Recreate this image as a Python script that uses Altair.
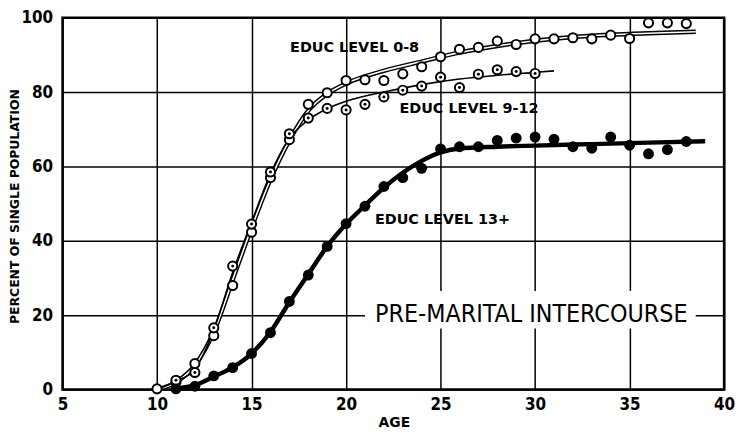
import altair as alt
import pandas as pd

# ---- data ----
# Educ level 0-8 (open circles)
age_a = [10, 11, 12, 13, 14, 15, 16, 17, 18, 19, 20, 21, 22, 23, 24, 25, 26, 27, 28, 29, 30, 31, 32, 33, 34, 35, 36, 37, 38]
pct_a = [0.2, 2, 7, 14.5, 28, 42.3, 57, 67.2, 76.7, 79.8, 83.1, 83.3, 83.1, 84.9, 86.8, 89.5, 91.5, 92, 93.7, 92.8, 94.3, 94.3, 94.6, 94.3, 95.3, 94.4, 98.6, 98.6, 98.4]
# Educ level 9-12 (dotted circles)
age_b = [11, 12, 13, 14, 15, 16, 17, 18, 19, 20, 21, 22, 23, 24, 25, 26, 27, 28, 29, 30]
pct_b = [2.5, 4.6, 16.6, 33.2, 44.5, 58.5, 68.8, 73, 75.6, 75.2, 76.7, 78.7, 80.5, 81.6, 84, 81.2, 84.8, 86, 85.5, 85]
# Educ level 13+ (filled circles)
age_c = [11, 12, 13, 14, 15, 16, 17, 18, 19, 20, 21, 22, 23, 24, 25, 26, 27, 28, 29, 30, 31, 32, 33, 34, 35, 36, 37, 38]
pct_c = [0.2, 0.9, 3.7, 5.9, 9.7, 15.3, 23.7, 30.8, 38.5, 44.6, 49.3, 54.6, 57, 59.5, 64.7, 65.3, 65.3, 67, 67.6, 67.9, 67.3, 65.3, 64.9, 67.9, 65.7, 63.4, 64.5, 66.7]

# fitted curves
curve_a_age = [10, 11, 12, 13, 14, 15, 16, 17, 18, 19, 20, 22, 24, 26, 28, 30, 32, 34, 36, 38.5]
curve_a_pct = [0, 2, 6.5, 15.5, 29.5, 43.5, 56.5, 67, 75, 79.5, 82.3, 85.7, 88.2, 90.6, 92.4, 93.8, 94.8, 95.4, 95.8, 96.2]
curve_b_age = [10, 11, 12, 13, 14, 15, 16, 17, 18, 19, 20, 22, 24, 26, 28, 30, 31]
curve_b_pct = [0, 2.2, 5.5, 16, 31.5, 45, 58, 67.5, 72.5, 75.5, 77.5, 80, 82, 83.5, 84.5, 85.3, 85.7]
curve_c_age = [11, 12, 13, 14, 15, 16, 17, 18, 19, 20, 21, 22, 23, 24, 25, 26, 28, 30, 33, 36, 39]
curve_c_pct = [0.3, 1.2, 3.5, 6, 9.7, 15.5, 23.5, 31, 38.5, 44.5, 49.5, 54.3, 58.3, 61.5, 63.8, 64.8, 65.3, 65.6, 66, 66.4, 66.8]

# annotations
label_text = ["EDUC LEVEL 0-8", "EDUC LEVEL 9-12", "EDUC LEVEL 13+"]
label_age = [20.45, 26.5, 25.1]
label_pct = [91.8, 75.3, 45.6]
title_text = ["PRE-MARITAL INTERCOURSE"]
title_age = [29.8]
title_pct = [20.3]
title_box = {"age": [21.0], "age2": [38.5], "pct": [16.4], "pct2": [26.5]}

x_ticks = [5, 10, 15, 20, 25, 30, 35, 40]
y_ticks = [0, 20, 40, 60, 80, 100]

FONT = "DejaVu Sans"
COND = "DejaVu Sans Condensed"

xs = alt.Scale(domain=[5, 40], nice=False)
ys = alt.Scale(domain=[0, 100], nice=False)

pts_a = pd.DataFrame({"age": age_a, "pct": pct_a})
pts_b = pd.DataFrame({"age": age_b, "pct": pct_b})
pts_c = pd.DataFrame({"age": age_c, "pct": pct_c})
cur_a = pd.DataFrame({"age": curve_a_age, "pct": curve_a_pct})
cur_b = pd.DataFrame({"age": curve_b_age, "pct": curve_b_pct})
cur_c = pd.DataFrame({"age": curve_c_age, "pct": curve_c_pct})
labels = pd.DataFrame({"t": label_text, "age": label_age, "pct": label_pct})
titles = pd.DataFrame({"t": title_text, "age": title_age, "pct": title_pct})
box = pd.DataFrame(title_box)

x_axis = alt.Axis(
    values=x_ticks, title="AGE", grid=True, gridColor="black", gridWidth=1.5,
    ticks=False, domain=False, labelFont=COND, labelFontWeight="bold",
    labelFontSize=17, labelPadding=7, labelColor="black",
    titleFont=FONT, titleFontWeight="bold", titleFontSize=14, titleColor="black",
    titleX=334, titleY=33, titleBaseline="middle", labelFlush=False)
y_axis = alt.Axis(
    values=y_ticks, title="PERCENT OF SINGLE POPULATION", grid=True,
    gridColor="black", gridWidth=1.5, ticks=False, domain=False,
    labelFont=COND, labelFontWeight="bold", labelFontSize=17, labelPadding=10,
    labelColor="black", titleFont=FONT, titleFontWeight="bold", titleFontSize=12.5,
    titleColor="black", titleX=-48, titleY=190, titleBaseline="middle",
    titleAngle=-90, labelFlush=False)


def X():
    return alt.X("age:Q", scale=xs, axis=x_axis)


def Y():
    return alt.Y("pct:Q", scale=ys, axis=y_axis)


white_box = alt.Chart(box).mark_rect(color="white").encode(
    x=X(), x2="age2:Q", y=Y(), y2="pct2:Q")

title_mark = alt.Chart(titles).mark_text(
    font="Liberation Sans Narrow, DejaVu Sans Condensed", fontSize=25, color="black",
    align="center", baseline="middle").encode(x=X(), y=Y(), text="t:N")

line_a_outer = alt.Chart(cur_a).mark_line(color="black", strokeWidth=4.5, interpolate="monotone").encode(x=X(), y=Y())
line_a_inner = alt.Chart(cur_a).mark_line(color="white", strokeWidth=1.6, interpolate="monotone").encode(x=X(), y=Y())
line_b = alt.Chart(cur_b).mark_line(color="black", strokeWidth=1.6, interpolate="monotone").encode(x=X(), y=Y())
line_c = alt.Chart(cur_c).mark_line(color="black", strokeWidth=4.5, interpolate="monotone").encode(x=X(), y=Y())

p_a = alt.Chart(pts_a).mark_point(shape="circle", filled=True, fill="white", stroke="black",
                                  strokeWidth=2, size=85, opacity=1).encode(x=X(), y=Y())
p_b = alt.Chart(pts_b).mark_point(shape="circle", filled=True, fill="white", stroke="black",
                                  strokeWidth=2, size=85, opacity=1).encode(x=X(), y=Y())
p_b_dot = alt.Chart(pts_b).mark_point(shape="circle", filled=True, color="black",
                                      size=9, opacity=1).encode(x=X(), y=Y())
p_c = alt.Chart(pts_c).mark_point(shape="circle", filled=True, color="black",
                                  size=120, opacity=1).encode(x=X(), y=Y())

lab = alt.Chart(labels).mark_text(font=FONT, fontWeight="bold", fontSize=14.5, color="black",
                                  align="center", baseline="middle").encode(
    x=X(), y=Y(), text="t:N")

chart = alt.layer(
    white_box, title_mark, line_a_outer, line_a_inner, line_b, line_c,
    p_a, p_b, p_b_dot, p_c, lab
).properties(
    width=667, height=375,
    autosize=alt.AutoSizeParams(type="none"),
    padding={"left": 55, "top": 8, "right": 13, "bottom": 40},
    background="white",
).configure_view(stroke="black", strokeWidth=2.5)

chart.save("out.html", embed_options={"renderer": "svg", "actions": False})
